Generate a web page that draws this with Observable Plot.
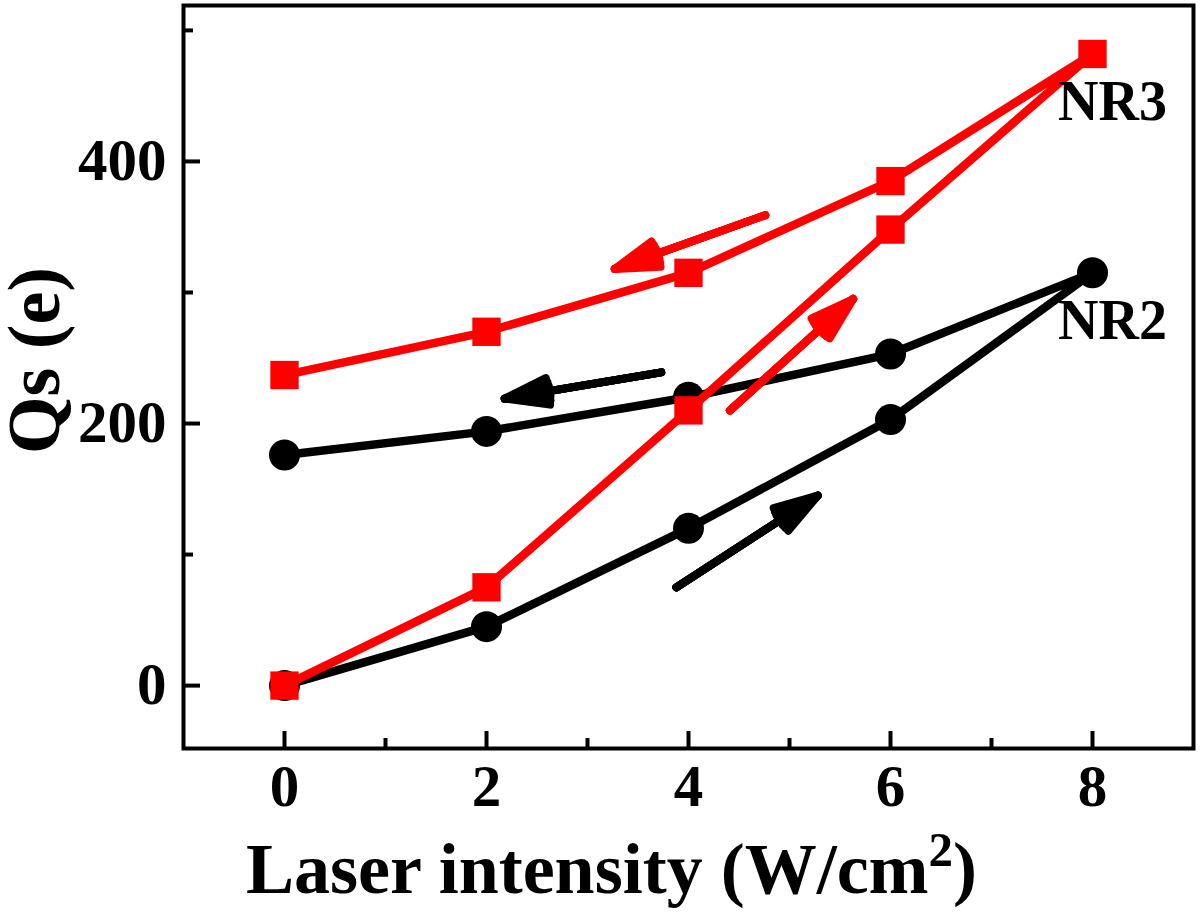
<!DOCTYPE html>
<html>
<head>
<meta charset="utf-8">
<script src="https://cdn.jsdelivr.net/npm/d3@7"></script>
<script src="https://cdn.jsdelivr.net/npm/@observablehq/plot@0.6"></script>
<style>
  html, body { margin: 0; padding: 0; background: #fff; }
  #chart svg { display: block; }
</style>
</head>
<body>
<div id="chart"></div>
<script>
// ---- data ----
const laserIntensity = [0, 2, 4, 6, 8, 6, 4, 2, 0];
const qsNR2 = [0, 45, 120, 203, 315, 253, 220, 194, 176];
const qsNR3 = [0, 75, 210, 348, 482, 385, 315, 270, 237];
const seriesNames = ["NR2", "NR3"];
const seriesColors = ["#000000", "#ff0000"];

const xMajorTicks = [0, 2, 4, 6, 8];
const xMinorTicks = [1, 3, 5, 7];
const yMajorTicks = [0, 200, 400];
const yMinorTicks = [100, 300, 500];

// sweep-direction arrows (data units)
const arrowX1 = [4.76, 4.41, 3.73, 3.88];
const arrowY1 = [359, 210, 239, 75];
const arrowX2 = [3.27, 5.63, 2.18, 5.28];
const arrowY2 = [318, 295, 219, 145];
const arrowColor = ["#ff0000", "#ff0000", "#000000", "#000000"];

const xTitleParts = ["Laser intensity (W/cm", "2", ")"];
const yTitle = "Qs (e)";

// ---- build tables ----
const nr2 = laserIntensity.map((x, i) => ({x, y: qsNR2[i]}));
const nr3 = laserIntensity.map((x, i) => ({x, y: qsNR3[i]}));
const arrows = arrowX1.map((x1, i) => ({x1, y1: arrowY1[i], x2: arrowX2[i], y2: arrowY2[i], c: arrowColor[i]}));
const labels = [
  {name: seriesNames[0], x: 8, y: qsNR2[4]},
  {name: seriesNames[1], x: 8, y: qsNR3[4]}
];

const W = 1200, H = 915;
const mL = 183, mR = 7, mT = 5, mB = 167;
const innerW = W - mL - mR, innerH = H - mT - mB;
const serif = "'Liberation Serif', 'Times New Roman', Times, serif";

const arrowOpts = (angle) => ({
  x1: "x1", y1: "y1", x2: "x2", y2: "y2", stroke: "c",
  strokeWidth: 8, headLength: 8.6, headAngle: angle,
  strokeLinecap: "round", strokeLinejoin: "round"
});

const chart = Plot.plot({
  width: W, height: H,
  marginLeft: mL, marginRight: mR, marginTop: mT, marginBottom: mB,
  x: {domain: [-1, 9], axis: null},
  y: {domain: [-48, 519], axis: null},
  style: {fontFamily: serif, background: "#fff"},
  marks: [
    // ticks (inward)
    Plot.tickX(xMajorTicks, {x: d => d, insetTop: innerH - 17, strokeWidth: 4}),
    Plot.tickX(xMinorTicks, {x: d => d, insetTop: innerH - 10, strokeWidth: 4}),
    Plot.tickY(yMajorTicks, {y: d => d, insetRight: innerW - 17, strokeWidth: 4}),
    Plot.tickY(yMinorTicks, {y: d => d, insetRight: innerW - 10, strokeWidth: 4}),
    // tick labels
    Plot.text(xMajorTicks, {x: d => d, text: d => String(d), frameAnchor: "bottom", lineAnchor: "top", dy: 16,
      fontSize: 59, fontWeight: "bold", fill: "#000"}),
    Plot.text(yMajorTicks, {y: d => d, text: d => String(d), frameAnchor: "left", textAnchor: "end", dx: -17,
      fontSize: 59, fontWeight: "bold", fill: "#000"}),
    // axis titles
    Plot.text([xTitleParts.join("")], {frameAnchor: "bottom", dy: 144, dx: -77, text: d => d,
      fontSize: 72, fontWeight: "bold", fill: "#000"}),
    Plot.text([yTitle], {frameAnchor: "left", dx: -148, dy: 77, rotate: -90, text: d => d,
      fontSize: 74, fontWeight: "bold", fill: "#000"}),
    // NR2 (black circles)
    Plot.line(nr2, {x: "x", y: "y", stroke: seriesColors[0], strokeWidth: 8.5, strokeLinejoin: "round", curve: "linear"}),
    Plot.dot(nr2, {x: "x", y: "y", r: 15.5, fill: seriesColors[0], stroke: "none", symbol: "circle"}),
    // NR3 (red squares)
    Plot.line(nr3, {x: "x", y: "y", stroke: seriesColors[1], strokeWidth: 8.5, strokeLinejoin: "round", curve: "linear"}),
    Plot.dot(nr3, {x: "x", y: "y", r: 16, fill: seriesColors[1], stroke: "none", symbol: "square"}),
    // arrows (layered to fill the heads)
    Plot.arrow(arrows, arrowOpts(34)),
    Plot.arrow(arrows, arrowOpts(24)),
    Plot.arrow(arrows, arrowOpts(14)),
    Plot.arrow(arrows, arrowOpts(5)),
    // series labels
    Plot.text(labels, {x: "x", y: "y", text: "name", dx: 20, dy: 48, fontSize: 56, fontWeight: "bold", fill: "#000"}),
    // frame
    Plot.frame({stroke: "#000", strokeWidth: 4})
  ]
});

// superscript in x-axis title
d3.select(chart).selectAll("text").filter(function () { return this.textContent === xTitleParts.join(""); })
  .each(function () {
    const t = d3.select(this);
    t.text(null);
    t.append("tspan").text(xTitleParts[0]);
    t.append("tspan").attr("dy", "-0.55em").attr("font-size", "0.68em").text(xTitleParts[1]);
    t.append("tspan").attr("dy", "0.37em").text(xTitleParts[2]);
  });

document.getElementById("chart").appendChild(chart);
</script>
</body>
</html>
